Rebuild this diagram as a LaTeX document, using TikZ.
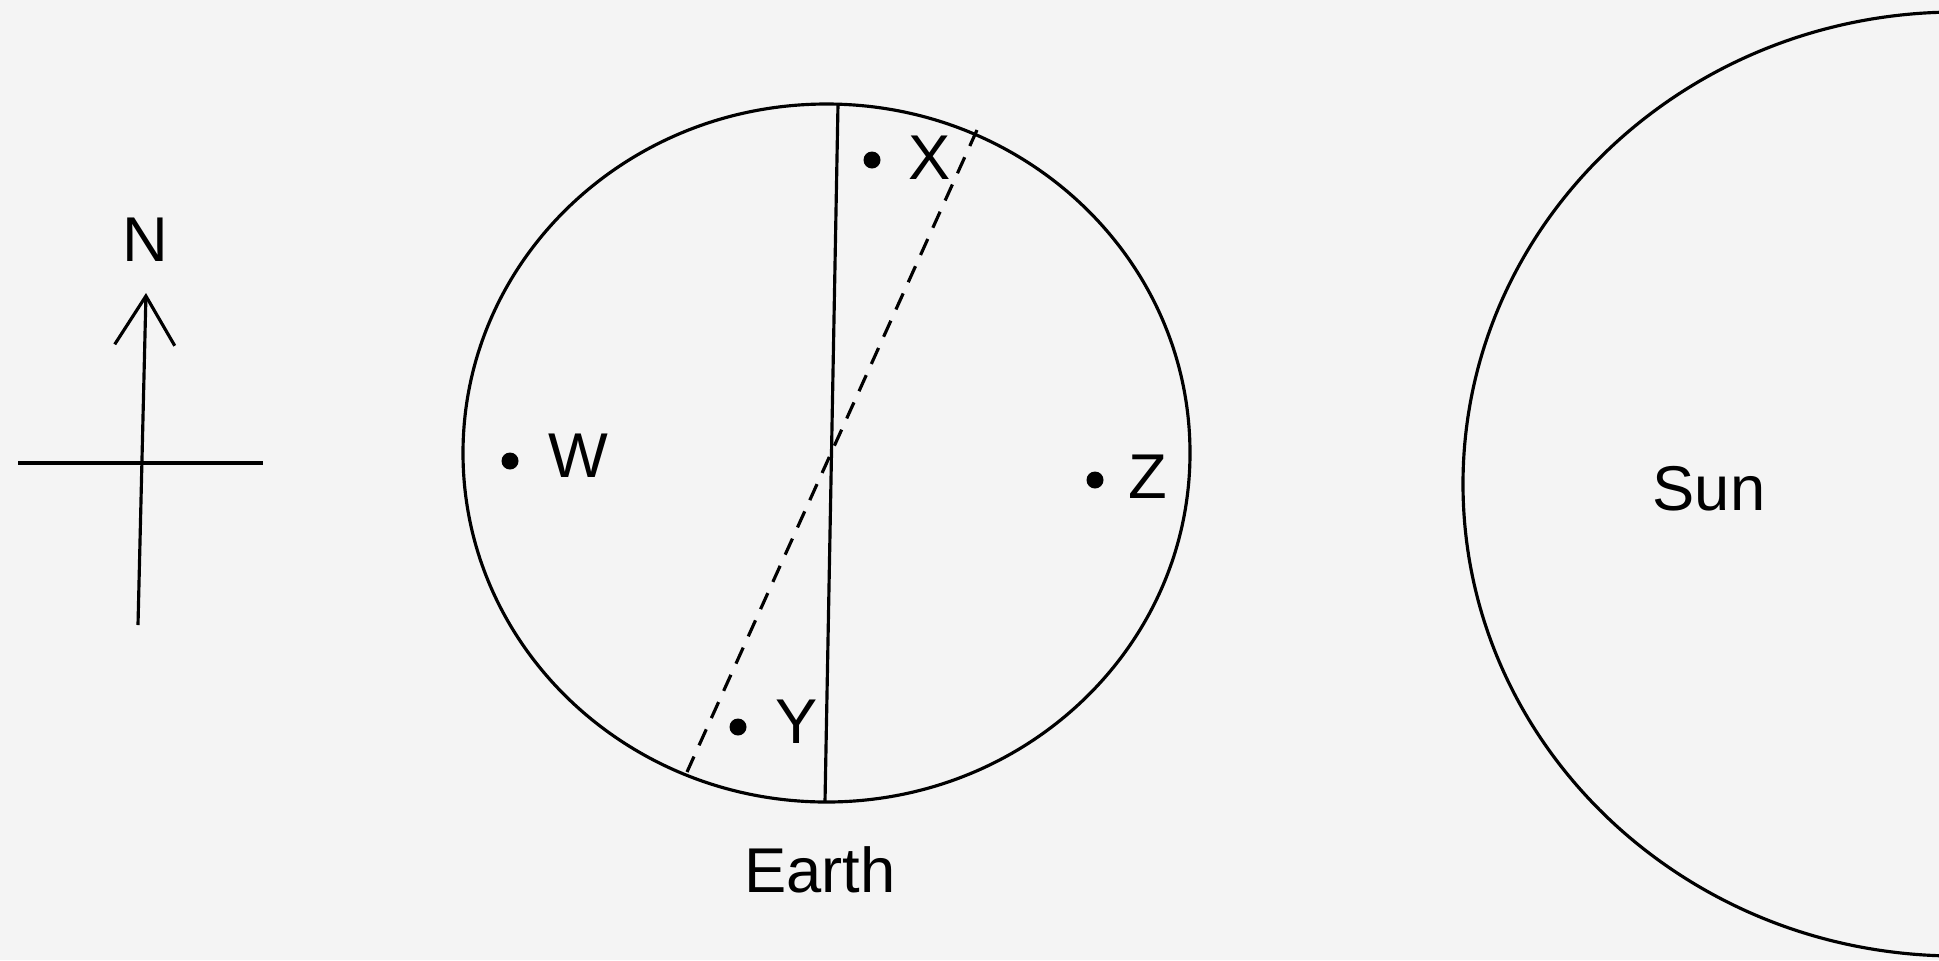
\documentclass[tikz,border=0pt]{standalone}
\usepackage{fontspec}
\setmainfont{Liberation Sans}
\usetikzlibrary{arrows.meta}
\definecolor{paper}{HTML}{F4F4F4}

\begin{document}
\begin{tikzpicture}[x=0.01cm,y=-0.01cm,line width=0.9pt,>={Straight Barb[length=0.49cm,width=0.6cm]},
  dot/.style={circle,fill,inner sep=0pt,minimum size=0.17cm},
  lbl/.style={inner sep=0pt,font=\fontsize{18}{22}\selectfont}]
\useasboundingbox (0,0) rectangle (1939,960);
\fill[paper] (0,0) rectangle (1939,960);
\clip (0,0) rectangle (1939,960);
% compass
\coordinate (cn) at (146,293);\coordinate (cs) at (138,625);
\coordinate (cw) at (18,463);\coordinate (ce) at (263,463);
\draw[->] (cs)--(cn);\draw (cw)--(ce);
\node[lbl] (north) at (145,240){N};
% earth with axis and tilted axis
\draw (826.5,453) ellipse (363.5 and 349);
\coordinate (ntop) at (838,104);\coordinate (nbot) at (825,802);
\coordinate (ttop) at (977,130);\coordinate (tbot) at (687,772);
\draw (ntop)--(nbot);
\draw[dash pattern=on 5pt off 3.5pt] (ttop)--(tbot);
\node[dot] (px) at (872,160){};\node[lbl] (lx) at (930,158){X};
\node[dot] (py) at (738,727){};\node[lbl] (ly) at (797,722){Y};
\node[dot] (pw) at (510,461){};\node[lbl] (lw) at (578,456){W};
\node[dot] (pz) at (1095,480){};\node[lbl] (lz) at (1148,477){Z};
\node[lbl] (earth) at (820,870){Earth};
% sun
\draw (1957,484) ellipse (494 and 472);
\node[lbl] (sun) at (1709,489){Sun};
\end{tikzpicture}
\end{document}
